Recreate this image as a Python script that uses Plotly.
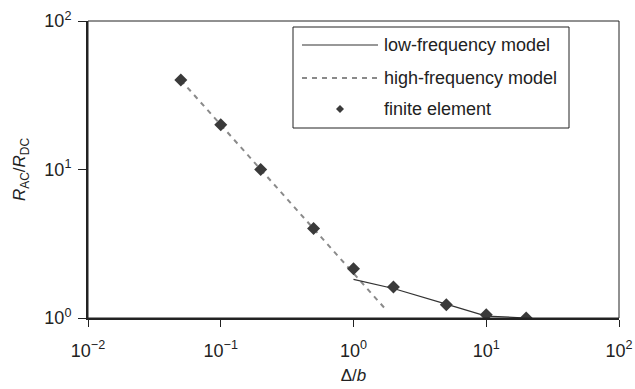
import plotly.graph_objects as go

# Finite element results
fe_x = [0.05, 0.1, 0.2, 0.5, 1, 2, 5, 10, 20]
fe_y = [40, 20, 10, 4.0, 2.15, 1.62, 1.23, 1.05, 1.0]

# Low-frequency model
lf_x = [1, 2, 5, 10, 20]
lf_y = [1.82, 1.58, 1.24, 1.03, 1.0]

# High-frequency model
hf_x = [0.05, 0.1, 0.2, 0.5, 1, 1.8]
hf_y = [40, 20, 10, 4.0, 2.0, 1.11]

x_tickvals = [0.01, 0.1, 1, 10, 100]
x_ticktext = ["10<sup>−2</sup>", "10<sup>−1</sup>", "10<sup>0</sup>", "10<sup>1</sup>", "10<sup>2</sup>"]
y_tickvals = [1, 10, 100]
y_ticktext = ["10<sup>0</sup>", "10<sup>1</sup>", "10<sup>2</sup>"]

legend_labels = ["low-frequency model", "high-frequency model", "finite element"]

FONT = "Liberation Sans, Arial, sans-serif"
W, H = 635, 389
L, R, T, B = 88, 16, 21, 71
PW, PH = W - L - R, H - T - B

def px(x):
    return (x - L) / PW

def py(y):
    return (H - B - y) / PH

fig = go.Figure()
fig.add_trace(go.Scatter(x=hf_x, y=hf_y, mode="lines",
                         line=dict(color="#8a8a8a", width=2, dash="5px,5px"),
                         showlegend=False))
fig.add_trace(go.Scatter(x=lf_x, y=lf_y, mode="lines",
                         line=dict(color="#333333", width=1.2),
                         showlegend=False))
fig.add_trace(go.Scatter(x=fe_x, y=fe_y, mode="markers",
                         marker=dict(symbol="diamond", size=10, color="#3a3a3a"),
                         showlegend=False))

shapes = []
annotations = []
# frame top/right
shapes.append(dict(type="rect", xref="paper", yref="paper", x0=0, x1=1, y0=0, y1=1,
                   line=dict(color="#222", width=1)))
# legend box
shapes.append(dict(type="rect", xref="paper", yref="paper",
                   x0=px(293), x1=px(569), y0=py(128), y1=py(27),
                   line=dict(color="#222", width=1), fillcolor="white", layer="above"))
rows = [45, 78, 109]
shapes.append(dict(type="line", xref="paper", yref="paper", x0=px(302), x1=px(378),
                   y0=py(rows[0]), y1=py(rows[0]), line=dict(color="#333", width=1.2), layer="above"))
shapes.append(dict(type="line", xref="paper", yref="paper", x0=px(302), x1=px(380),
                   y0=py(rows[1]), y1=py(rows[1]),
                   line=dict(color="#8a8a8a", width=2, dash="5px,5px"), layer="above"))
cx, cy, hs = 340, rows[2], 4
shapes.append(dict(type="path", xref="paper", yref="paper", layer="above",
                   path=f"M {px(cx - hs)} {py(cy)} L {px(cx)} {py(cy - hs)} L {px(cx + hs)} {py(cy)} L {px(cx)} {py(cy + hs)} Z",
                   fillcolor="#3a3a3a", line=dict(color="#3a3a3a", width=0)))
for lab, r in zip(legend_labels, rows):
    annotations.append(dict(text=lab, xref="paper", yref="paper", x=px(382), y=py(r),
                            xanchor="left", yanchor="middle", showarrow=False,
                            font=dict(family=FONT, size=18, color="#222")))

fig.update_layout(
    width=W, height=H,
    margin=dict(l=L, r=R, t=T, b=B),
    paper_bgcolor="white", plot_bgcolor="white",
    font=dict(family=FONT, size=18, color="#222"),
    shapes=shapes, annotations=annotations,
    showlegend=False,
)
fig.update_xaxes(type="log", range=[-2, 2], tickvals=x_tickvals, ticktext=x_ticktext,
                 showgrid=False, zeroline=False, showline=True, linecolor="#222", linewidth=2,
                 ticks="outside", ticklen=7, tickcolor="#222", tickwidth=1,
                 tickfont=dict(size=18), ticklabelstandoff=8, automargin=False,
                 title=dict(text="Δ/<i>b</i>", font=dict(size=17), standoff=10))
fig.update_yaxes(type="log", range=[0, 2], tickvals=y_tickvals, ticktext=y_ticktext,
                 showgrid=False, zeroline=False, showline=True, linecolor="#222", linewidth=2,
                 ticks="outside", ticklen=8, tickcolor="#222", tickwidth=1,
                 tickfont=dict(size=18), ticklabelstandoff=3, automargin=False,
                 title=dict(text="<i>R</i><sub>AC</sub>/<i>R</i><sub>DC</sub>", font=dict(size=17), standoff=14))

fig.write_html("out.html")
